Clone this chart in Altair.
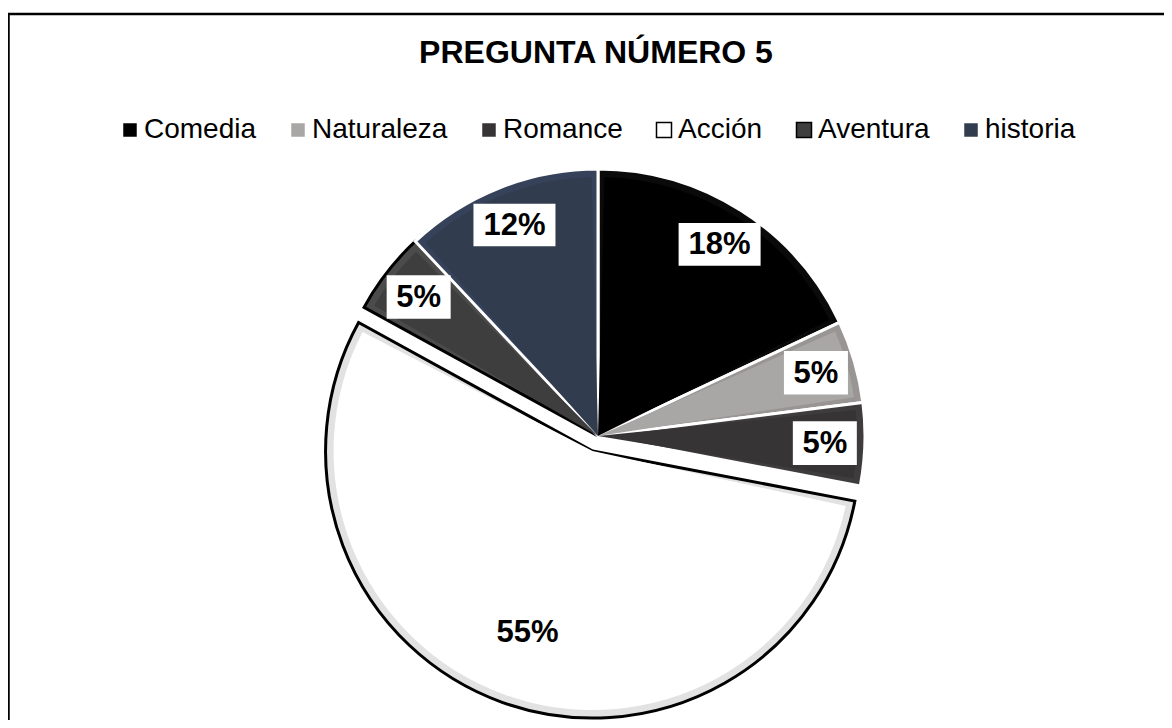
import math
import altair as alt
import pandas as pd

# ---- data ----
title_text = "PREGUNTA NÚMERO 5"
categories = ["Comedia", "Naturaleza", "Romance", "Acción", "Aventura", "historia"]
values = [18, 5, 5, 55, 5, 12]

# ---- styles ----
fill_colors = ["#000000", "#a9a6a6", "#363434", "#ffffff", "#3e3e3e", "#323c4f"]
edge_colors = ["#0a0a0a", "#999595", "#3e3c3c", "#e2e2e2", "#4b4b4b", "#36415a"]
stroke_colors = ["#ffffff", "#ffffff", "#ffffff", "#000000", "#000000", "#ffffff"]
FONT = "Liberation Sans"

df = pd.DataFrame({"cat": categories, "v": values, "idx": list(range(len(categories)))})

xs = alt.Scale(domain=[-1, 1], range=[323, 857], nice=False, zero=False)
ys = alt.Scale(domain=[-1, 1], range=[695, 161], nice=False, zero=False)
ts = alt.Scale(domain=[0, 1], range=[0, 2 * math.pi])

base = (
    alt.Chart(df)
    .transform_window(cum="sum(v)", sort=[alt.SortField("idx")], frame=[None, 0])
    .transform_joinaggregate(tot="sum(v)")
    .transform_calculate(
        start="(datum.cum - datum.v) / datum.tot",
        end="datum.cum / datum.tot",
        ang="PI * (2 * datum.cum - datum.v) / datum.tot",
        ex="datum.v / datum.tot > 0.5 ? 0.06 : 0",
        rl="datum.v / datum.tot > 0.5 ? 0.72 : 0.85",
        lbl="format(datum.v / datum.tot, '.0%')",
    )
    .transform_calculate(
        cx="datum.ex * sin(datum.ang)",
        cy="datum.ex * cos(datum.ang)",
    )
    .transform_calculate(
        lx="datum.cx + datum.rl * sin(datum.ang)",
        ly="datum.cy + datum.rl * cos(datum.ang)",
        shp="length(datum.lbl) > 2 ? 'M-1,-0.52L1,-0.52L1,0.52L-1,0.52Z' : 'M-1,-0.68L1,-0.68L1,0.68L-1,0.68Z'",
        sz="length(datum.lbl) > 2 ? 6724 : 4096",
    )
)

pos = dict(
    x=alt.X("cx:Q", scale=xs, axis=None),
    y=alt.Y("cy:Q", scale=ys, axis=None),
    theta=alt.Theta("start:Q", scale=ts, stack=None),
    theta2=alt.Theta2("end:Q"),
)

legend = alt.Legend(
    title=None, orient="top-left", offset=108, direction="horizontal",
    symbolType="square", symbolSize=225, symbolStrokeWidth=1.5,
    symbolStrokeColor="black",
    labelFontSize=28, labelFont=FONT, labelColor="black", labelLimit=0,
    columnPadding=27, labelOffset=0,
)

color_scale = alt.Scale(domain=categories, range=fill_colors)

# bottom layer: full pie in the main colours, carries the legend
carrier = base.mark_arc(outerRadius=266, strokeWidth=0, filled=True).encode(
    color=alt.Color("cat:N", scale=color_scale, legend=legend),
    **pos,
)

edges = base.mark_arc(outerRadius=267, strokeWidth=3).encode(
    fill=alt.Fill("cat:N", scale=alt.Scale(domain=categories, range=edge_colors), legend=None),
    stroke=alt.Stroke("cat:N", scale=alt.Scale(domain=categories, range=stroke_colors), legend=None),
    **pos,
)

inner = base.mark_arc(outerRadius=259, padAngle=0.05, strokeWidth=0, filled=True).encode(
    color=alt.Color("cat:N", scale=color_scale, legend=None),
    **pos,
)

boxes = base.mark_point(filled=True, color="white", opacity=1, strokeWidth=0).encode(
    x=alt.X("lx:Q", scale=xs, axis=None),
    y=alt.Y("ly:Q", scale=ys, axis=None),
    shape=alt.Shape("shp:N", scale=None, legend=None),
    size=alt.Size("sz:Q", scale=None, legend=None),
)

texts = base.mark_text(
    font=FONT, fontSize=31, fontWeight="bold", color="black",
    baseline="middle", align="center", dy=1,
).encode(
    x=alt.X("lx:Q", scale=xs, axis=None),
    y=alt.Y("ly:Q", scale=ys, axis=None),
    text="lbl:N",
)

frame = alt.Chart(alt.Data(values=[{"t": title_text}]))
left_rule = frame.mark_rule(color="black", strokeWidth=2.5).encode(
    x=alt.value(0.5), y=alt.value(6), y2=alt.value(712)
)
top_rule = frame.mark_rule(color="black", strokeWidth=2.5).encode(
    x=alt.value(0), x2=alt.value(1156), y=alt.value(6)
)
title = frame.mark_text(
    font=FONT, fontSize=32, fontWeight="bold", color="black",
    align="center", baseline="alphabetic",
).encode(text="t:N", x=alt.value(588), y=alt.value(55))

chart = (
    alt.layer(carrier, edges, inner, top_rule, left_rule, title, boxes, texts)
    .properties(
        width=1156,
        height=712,
        padding=0,
        autosize=alt.AutoSizeParams(type="none"),
    )
    .configure_view(stroke=None)
)

chart.save("out.html", embed_options={"renderer": "svg", "actions": False})
